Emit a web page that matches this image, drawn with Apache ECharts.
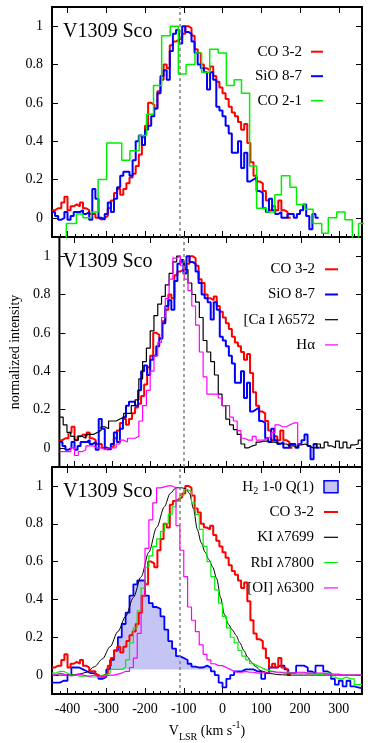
<!DOCTYPE html>
<html><head><meta charset="utf-8">
<script src="https://cdn.jsdelivr.net/npm/echarts@6/dist/echarts.min.js"></script>
<style>html,body{margin:0;padding:0;background:#fff}#c{width:374px;height:743px}</style>
</head><body><div id="c"></div>
<script>
// ---------- data ----------
const vsys = -110;
const xMin = -440, xMax = 360;
const xTicks = [-400, -300, -200, -100, 0, 100, 200, 300];
const yTicks = [0, 0.2, 0.4, 0.6, 0.8, 1];

// CO 3-2 (8 km/s channels, left edge of first channel = -440)
const co32Start = -440, co32Step = 8;
const co32 = [0.04,0.05,0.05,0.08,0.11,0.04,0.06,0.07,0.06,0.08,
  0.05,0.04,0.02,0.02,0.00,-0.01,0.00,0.01,0.05,0.09,
  0.13,0.15,0.12,0.15,0.18,0.21,0.23,0.27,0.33,0.42,
  0.48,0.60,0.59,0.57,0.66,0.72,0.80,0.78,0.90,0.92,
  0.93,0.94,0.96,1.00,0.99,0.95,0.88,0.86,0.80,0.78,
  0.77,0.79,0.74,0.71,0.68,0.65,0.62,0.58,0.55,0.53,
  0.50,0.46,0.49,0.39,0.29,0.22,0.19,0.18,0.14,0.09,
  0.04,0.06,0.04,0.09,0.04,0.03,0.00];

// SiO 8-7 (8 km/s channels)
const sioStart = -440, sioStep = 8;
const sio87 = [0.03,0.01,-0.01,0.00,0.03,-0.01,0.01,0.03,0.03,0.04,
  0.02,0.03,-0.01,0.15,0.10,0.00,-0.01,0.02,0.08,0.03,
  0.10,0.16,0.22,0.24,0.24,0.22,0.30,0.40,0.43,0.38,
  0.46,0.48,0.53,0.57,0.65,0.74,0.77,0.72,0.87,0.96,
  0.98,0.91,1.00,0.97,0.96,0.92,0.86,0.80,0.78,0.76,
  0.67,0.76,0.72,0.58,0.56,0.53,0.48,0.44,0.34,0.34,
  0.40,0.26,0.34,0.19,0.20,0.21,0.14,0.13,0.05,0.03,
  0.10,0.04,0.02,0.03,0.00,0.00,0.02,0.02,0.00,0.02,
  0.04,0.07,0.01,-0.06,0.02,0.00];

// CO 2-1 (coarse channels, explicit channel edges)
const co21Edges = [-425,-403,-377,-360,-338,-321,-299,-278,-260,-239,
  -215,-196,-178,-157,-135,-114,-94,-71,-54,-33,
  -11,10,30,49,70,88,114,135,152,174,
  191,213,234,256,273,295,316,335,351,370];
const co21 = [-0.2,-0.03,0.02,0.00,0.03,0.20,0.39,0.39,0.30,0.35,
  0.43,0.54,0.69,0.95,1.00,0.75,0.80,0.86,0.76,0.88,
  0.86,0.69,0.72,0.65,0.27,0.05,0.03,0.12,0.22,0.16,
  0.07,0.045,-0.03,-0.08,0.00,0.03,-0.01,-0.2,-0.03];

// 10 km/s channels starting at -440
const fineStart = -440, fineStep = 10;
const cai6572 = [0.16,0.12,0.08,0.06,0.04,0.06,0.05,0.07,0.07,0.08,
  0.09,0.11,0.10,0.14,0.14,0.15,0.16,0.18,0.18,0.22,
  0.25,0.36,0.45,0.52,0.61,0.69,0.75,0.79,0.85,0.91,
  0.97,1.00,0.97,0.93,0.86,0.80,0.76,0.68,0.56,0.50,
  0.45,0.38,0.28,0.22,0.15,0.12,0.095,0.07,0.02,0.00,
  0.01,0.015,0.03,0.035,0.035,0.03,0.03,0.025,0.02,0.02,
  0.01,0.01,0.00,0.015,0.02,0.01,0.00,0.00,0.02,0.00,
  0.03,0.01,0.00,0.035,0.00,0.03,0.00,0.015,0.02,0.04];
const halpha = [-0.02,-0.02,-0.02,0.00,-0.04,-0.02,-0.01,0.01,0.01,0.00,
  0.00,-0.01,0.00,0.00,0.00,0.02,0.04,0.03,0.05,0.05,
  0.06,0.14,0.22,0.30,0.40,0.48,0.55,0.68,0.78,0.88,
  0.99,1.00,0.95,0.88,0.82,0.74,0.64,0.50,0.37,0.28,
  0.28,0.28,0.26,0.22,0.22,0.16,0.14,0.09,0.05,0.04,
  0.04,0.06,0.04,0.04,0.05,0.06,0.08,0.12,0.11,0.11,
  0.12,0.13,0.13,0.02];
const h2q1 = [-0.04,-0.04,-0.03,-0.03,0.00,0.04,0.04,0.03,0.02,0.01,
  0.01,0.00,-0.02,-0.01,0.03,0.08,0.13,0.20,0.27,0.33,
  0.42,0.48,0.50,0.50,0.42,0.38,0.36,0.35,0.31,0.24,
  0.18,0.14,0.10,0.09,0.08,0.06,0.045,0.04,0.04,0.05,
  0.04,0.02,0.00,-0.04,-0.065,-0.02,0.00,0.02,0.02,0.03,
  0.03,0.03,0.02,0.02,-0.02,0.01,0.04,0.04,0.05,0.05,
  0.03,0.01,0.01,0.05,0.05,0.04,0.02,0.01,0.05,0.05,
  0.02,0.01,-0.02,-0.05,-0.03,-0.06,-0.03,-0.06,-0.065,-0.07];
const rbi7800 = [0.01,0.02,0.02,0.01,0.00,0.00,-0.005,-0.005,-0.005,-0.01,
  -0.01,-0.01,0.00,0.00,0.01,0.03,0.03,0.03,0.04,0.08,
  0.17,0.25,0.34,0.46,0.57,0.63,0.68,0.72,0.76,0.80,
  0.85,0.89,0.92,0.95,0.98,0.97,0.91,0.85,0.77,0.68,
  0.60,0.52,0.45,0.38,0.31,0.25,0.20,0.17,0.13,0.10,
  0.08,0.06,0.05,0.04,0.03,0.025,0.02,0.015,0.015,0.015,
  0.015,0.01,0.01,0.01,0.01,0.01,0.01,0.005,0.005,0.005,
  0.01,0.01,-0.01,-0.02,-0.02,-0.01,-0.02,-0.02,-0.05,-0.05];
const oi6300 = [0.00,0.01,0.005,0.00,-0.005,0.00,0.005,0.00,-0.005,-0.005,
  0.00,-0.01,-0.01,-0.005,0.00,0.00,0.005,0.01,0.02,0.02,
  0.04,0.09,0.22,0.42,0.67,0.82,0.91,0.99,0.995,1.00,
  1.00,0.99,0.79,0.66,0.52,0.36,0.29,0.23,0.16,0.11,
  0.08,0.06,0.05,0.05,0.04,0.03,0.02,0.015,0.015,0.02,
  0.015,0.015,0.01,0.01,0.015,0.015,0.02,0.015,0.015,0.01,
  0.01,0.01,0.015,0.015,0.015,0.01,0.01,0.01,0.01,0.01,
  0.005,0.005,0.005,0.005,0.00,0.00,0.00,0.00,0.00,0.00];
// KI 7699 (smooth profile)
const kiV = [-440,-400,-370,-350,-330,-310,-290,-270,-250,-230,
  -210,-190,-170,-150,-135,-120,-105,-95,-85,-75,
  -65,-55,-45,-35,-25,-15,-5,5,15,25,
  35,45,55,65,75,85,100,120,140,170,360];
const ki7699 = [0,0,0.005,0.015,0.045,0.085,0.15,0.23,0.31,0.41,
  0.52,0.65,0.78,0.89,0.96,0.99,0.99,0.985,0.96,0.88,
  0.77,0.70,0.65,0.61,0.57,0.51,0.41,0.32,0.27,0.24,
  0.21,0.17,0.13,0.095,0.068,0.045,0.022,0.01,0.003,0,0];

// ---------- helpers ----------
function stepPairs(start, step, vals) {
  const out = vals.map((v, i) => [start + i * step, v]);
  out.push([start + vals.length * step, vals[vals.length - 1]]);
  return out;
}
function edgePairs(edges, vals) {
  const out = vals.map((v, i) => [edges[i], v]);
  out.push([edges[vals.length], vals[vals.length - 1]]);
  return out;
}
const FONT = 'Liberation Serif';
const C = {red: '#ff0000', blue: '#0000ff', green: '#00ee00', black: '#000000', mag: '#ff00ff', fill: '#c4c5f4'};

const grids = [
  {left: 52, width: 310, top: 7, height: 230},
  {left: 52, width: 310, top: 237, height: 230},
  {left: 52, width: 310, top: 467, height: 231}
].map(g => Object.assign(g, {show: true, borderColor: '#000', borderWidth: 2, backgroundColor: 'transparent'}));

const xAxes = [], yAxes = [];
for (let g = 0; g < 3; g++) {
  const last = g === 2;
  xAxes.push({type: 'value', gridIndex: g, position: 'bottom', min: xMin, max: xMax,
    axisLine: {show: false, onZero: false},
    axisTick: {show: true, inside: true, length: 6, customValues: xTicks, lineStyle: {color: '#000', width: 1}},
    axisLabel: {show: last, customValues: xTicks, margin: 8, color: '#000', fontSize: 14, fontFamily: FONT},
    splitLine: {show: false},
    name: last ? '{a|V}{b|LSR}{a| (km s}{c|-1}{a|)}' : '',
    nameLocation: 'middle', nameGap: 26,
    nameTextStyle: {color: '#000', fontFamily: FONT, rich: {
      a: {fontSize: 14, lineHeight: 22, fontFamily: FONT, color: '#000'},
      b: {fontSize: 10, lineHeight: 10, verticalAlign: 'bottom', fontFamily: FONT, color: '#000'},
      c: {fontSize: 10, lineHeight: 10, verticalAlign: 'top', fontFamily: FONT, color: '#000'}}}
  });
  xAxes.push({type: 'value', gridIndex: g, position: 'bottom', min: xMin, max: xMax, interval: 20,
    axisLine: {show: false, onZero: false},
    axisTick: {show: true, inside: true, length: 3, lineStyle: {color: '#000', width: 1}},
    axisLabel: {show: false}, splitLine: {show: false}});
  xAxes.push({type: 'value', gridIndex: g, position: 'top', min: xMin, max: xMax,
    axisLine: {show: false, onZero: false},
    axisTick: {show: true, inside: true, length: 6, customValues: xTicks, lineStyle: {color: '#000', width: 1}},
    axisLabel: {show: false}, splitLine: {show: false}});
  yAxes.push({type: 'value', gridIndex: g, position: 'left', min: -0.1, max: 1.1,
    axisLine: {show: false, onZero: false},
    axisTick: {show: true, inside: true, length: 6, customValues: yTicks, lineStyle: {color: '#000', width: 1}},
    axisLabel: {show: true, customValues: yTicks, margin: 9, color: '#000', fontSize: 14, fontFamily: FONT},
    splitLine: {show: false},
    name: g === 1 ? 'normalized intensity' : '', nameLocation: 'middle', nameGap: 37,
    nameTextStyle: {color: '#000', fontSize: 14, fontFamily: FONT}});
  yAxes.push({type: 'value', gridIndex: g, position: 'right', min: -0.1, max: 1.1,
    axisLine: {show: false, onZero: false},
    axisTick: {show: true, inside: true, length: 6, customValues: yTicks, lineStyle: {color: '#000', width: 1}},
    axisLabel: {show: false}, splitLine: {show: false}});
}

const dashLine = {silent: true, symbol: ['none', 'none'], label: {show: false}, animation: false,
  lineStyle: {color: '#808080', type: [3, 3], width: 1.5}, data: [{xAxis: vsys}]};

function stepSeries(name, g, data, color, width, extra) {
  return Object.assign({type: 'line', name, xAxisIndex: g * 3, yAxisIndex: g * 2, data, step: 'end',
    symbol: 'none', showSymbol: false, animation: false,
    lineStyle: {color, width}, itemStyle: {color}}, extra || {});
}

const co32Data = stepPairs(co32Start, co32Step, co32);
const sioData = stepPairs(sioStart, sioStep, sio87);
const h2Data = stepPairs(fineStart, fineStep, h2q1);
const fillFrom = -300, fillTo = -20;
const h2Fill = h2Data.filter(p => p[0] >= fillFrom && p[0] <= fillTo);

const series = [
  stepSeries('CO 3-2', 0, co32Data, C.red, 2, {markLine: dashLine}),
  stepSeries('SiO 8-7', 0, sioData, C.blue, 2),
  stepSeries('CO 2-1', 0, edgePairs(co21Edges, co21), C.green, 1.5),

  stepSeries('CO 3-2', 1, co32Data, C.red, 2, {markLine: dashLine}),
  stepSeries('SiO 8-7', 1, sioData, C.blue, 2),
  stepSeries('[Ca I λ6572', 1, stepPairs(fineStart, fineStep, cai6572), C.black, 1.2),
  stepSeries('Hα', 1, stepPairs(fineStart, fineStep, halpha), C.mag, 1.2),

  stepSeries('H2 fill', 2, h2Fill, C.fill, 0, {areaStyle: {color: C.fill, opacity: 1, origin: 0.03}, markLine: dashLine}),
  stepSeries('H2 1-0 Q(1)', 2, h2Data, C.blue, 1.8),
  stepSeries('CO 3-2', 2, co32Data, C.red, 2),
  {type: 'line', name: 'KI λ7699', xAxisIndex: 6, yAxisIndex: 4, data: kiV.map((v, i) => [v, ki7699[i]]),
    smooth: 0.3, smoothMonotone: 'x', symbol: 'none', showSymbol: false, animation: false,
    lineStyle: {color: C.black, width: 1}, itemStyle: {color: C.black}},
  stepSeries('RbI λ7800', 2, stepPairs(fineStart, fineStep, rbi7800), C.green, 1.2),
  stepSeries('[OI] λ6300', 2, stepPairs(fineStart, fineStep, oi6300), C.mag, 1.2)
];

// ---------- key & labels (graphic) ----------
const keys = [
  {textRight: 302, x1: 311, x2: 323, y0: 51.7, dy: 24.5, items: [
    ['CO 3-2', C.red, 2], ['SiO 8-7', C.blue, 2], ['CO 2-1', C.green, 1.5]]},
  {textRight: 315, x1: 325, x2: 338, y0: 269.3, dy: 25.2, items: [
    ['CO 3-2', C.red, 2], ['SiO 8-7', C.blue, 2], ['[Ca I λ6572', C.black, 1.2], ['Hα', C.mag, 1.2]]},
  {textRight: 314, x1: 324, x2: 338, y0: 486.7, dy: 25.3, items: [
    ['{n|H}{s|2}{n| 1-0 Q(1)}', 'box', 0], ['CO 3-2', C.red, 2], ['KI λ7699', C.black, 1.2],
    ['RbI λ7800', C.green, 1.2], ['[OI] λ6300', C.mag, 1.2]]}
];
const graphic = [];
const rich = {n: {fontSize: 15, fontFamily: FONT, lineHeight: 20, fill: '#000'},
  s: {fontSize: 10, fontFamily: FONT, lineHeight: 10, verticalAlign: 'bottom', fill: '#000'}};
keys.forEach(k => {
  k.items.forEach((it, i) => {
    const y = k.y0 + i * k.dy;
    graphic.push({type: 'text', x: k.textRight, y, silent: true,
      style: {text: it[0], align: 'right', verticalAlign: 'middle', fill: '#000',
        font: '15px "Liberation Serif"', rich: it[1] === 'box' ? rich : undefined}});
    if (it[1] === 'box') {
      graphic.push({type: 'rect', silent: true, shape: {x: k.x1, y: y - 6, width: k.x2 - k.x1, height: 12},
        style: {fill: C.fill, stroke: C.blue, lineWidth: 1.5}});
    } else {
      graphic.push({type: 'line', silent: true, shape: {x1: k.x1, y1: y, x2: k.x2, y2: y},
        style: {stroke: it[1], lineWidth: it[2]}});
    }
  });
});
[32, 262, 492].forEach(y => graphic.push({type: 'text', x: 63, y, silent: true,
  style: {text: 'V1309 Sco', align: 'left', verticalAlign: 'middle', fill: '#000', font: '20px "Liberation Serif"'}}));

const chart = echarts.init(document.getElementById('c'), null, {renderer: 'canvas'});
chart.setOption({
  animation: false,
  backgroundColor: '#fff',
  textStyle: {fontFamily: FONT},
  grid: grids, xAxis: xAxes, yAxis: yAxes, series, graphic
});
</script></body></html>
